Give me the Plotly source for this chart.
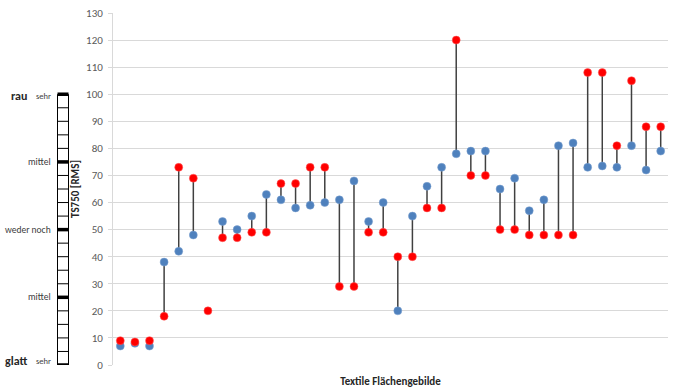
import plotly.graph_objects as go

# ---- data ----
categories = list(range(1, 39))
blue_vals = [7, 8, 7, 38, 42, 48, None, 53, 50, 55, 63, 61, 58, 59, 60, 61, 68, 53, 60, 20,
             55, 66, 73, 78, 79, 79, 65, 69, 57, 61, 81, 82, 73, 73.5, 73, 81, 72, 79]
red_vals = [9, 8.5, 9, 18, 73, 69, 20, 47, 47, 49, 49, 67, 67, 73, 73, 29, 29, 49, 49, 40,
            40, 58, 58, 120, 70, 70, 50, 50, 48, 48, 48, 48, 108, 108, 81, 105, 88, 88]
y_ticks = list(range(0, 131, 10))

# scale on the left (aligned with y values 0..100)
scale_minor = list(range(0, 101, 5))
scale_major = [0, 25, 50, 75, 100]
scale_labels = [(100, "sehr"), (75, "mittel"), (50, "weder noch"), (25, "mittel"), (0, "sehr")]
scale_ends = [(100, "rau"), (0, "glatt")]

FONT = "Carlito, Lato, sans-serif"

# connector line data
lx, ly = [], []
for c, b, r in zip(categories, blue_vals, red_vals):
    if b is None or r is None:
        continue
    lx += [c, c, None]
    ly += [b, r, None]

fig = go.Figure()
fig.add_trace(go.Scatter(x=lx, y=ly, mode="lines",
                         line=dict(color="#404040", width=1.5),
                         hoverinfo="skip", showlegend=False))
fig.add_trace(go.Scatter(x=categories, y=blue_vals, mode="markers",
                         marker=dict(color="#4F81BD", size=8,
                                     line=dict(color="#7fa3d1", width=0.5)),
                         showlegend=False))
fig.add_trace(go.Scatter(x=categories, y=red_vals, mode="markers",
                         marker=dict(color="#FF0000", size=8,
                                     line=dict(color="#ff6060", width=0.5)),
                         showlegend=False))

# left scale bar (paper x: plot area spans 555 px starting at x=113)
PW = 555.0
def px(xpix):
    return (xpix - 113) / PW

x0, x1 = px(57.5), px(68.5)
shapes = []
shapes.append(dict(type="line", xref="paper", yref="y", x0=x0, x1=x0, y0=0, y1=100,
                   line=dict(color="#000000", width=1)))
shapes.append(dict(type="line", xref="paper", yref="y", x0=x1, x1=x1, y0=0, y1=100,
                   line=dict(color="#000000", width=1)))
for v in scale_minor:
    w = 3.5 if v in scale_major else 1
    shapes.append(dict(type="line", xref="paper", yref="y", x0=x0, x1=x1, y0=v, y1=v,
                       line=dict(color="#000000", width=w)))

annotations = []
for v, t in scale_labels:
    yy = v + (-0.5 if v == 100 else (1.5 if v == 0 else 0))
    annotations.append(dict(xref="paper", yref="y", x=px(53), y=yy, text=t,
                            showarrow=False, xanchor="right", yanchor="middle",
                            font=dict(family=FONT, size=8.5 if t == "sehr" else 9.5,
                                      color="#404040")))
for v, t in scale_ends:
    yy = v + (-0.5 if v == 100 else 1.5)
    annotations.append(dict(xref="paper", yref="y", x=px(29), y=yy, text="<b>" + t + "</b>",
                            showarrow=False, xanchor="right", yanchor="middle",
                            font=dict(family=FONT, size=12, color="#262626")))

fig.update_layout(
    width=675, height=392,
    margin=dict(l=113, r=7, t=10, b=26),
    plot_bgcolor="white", paper_bgcolor="white",
    font=dict(family=FONT, color="#595959"),
    shapes=shapes, annotations=annotations,
    showlegend=False,
)
fig.update_xaxes(range=[0.5, 38.5], showticklabels=False, showgrid=False,
                 zeroline=False, showline=False, ticks="",
                 title=dict(text="<b>Textile Flächengebilde</b>",
                            font=dict(family=FONT, size=11, color="#262626"), standoff=12))
fig.update_yaxes(range=[0, 130], tickvals=y_ticks, showgrid=True, gridcolor="#d9d9d9",
                 gridwidth=1, zeroline=False, showline=True, linecolor="#d9d9d9",
                 ticks="outside", ticklen=4, tickcolor="#d9d9d9",
                 tickfont=dict(family=FONT, size=11, color="#595959"),
                 ticklabelstandoff=3,
                 title=dict(text="<b>TS750 [RMS]</b>",
                            font=dict(family=FONT, size=11, color="#262626"), standoff=4))

# remove the default page margin so the figure sits at the window's top-left corner
fig.write_html("out.html", config={"displayModeBar": False},
               post_script="document.body.style.margin='0';")
